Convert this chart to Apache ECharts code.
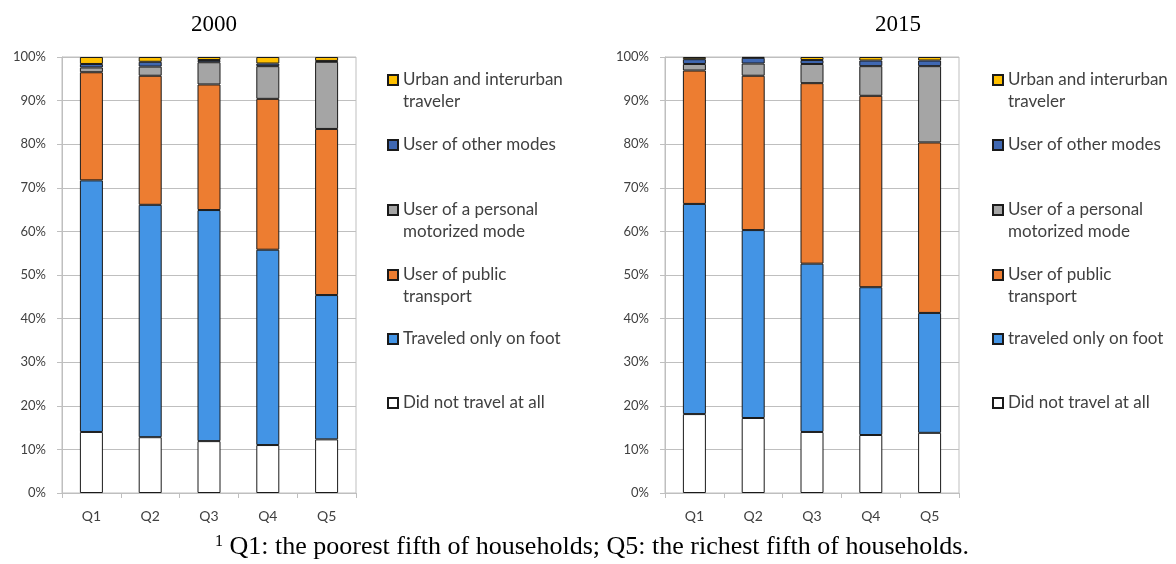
<!DOCTYPE html>
<html>
<head>
<meta charset="utf-8">
<script src="https://cdn.jsdelivr.net/npm/echarts@6/dist/echarts.min.js"></script>
<style>
  html, body { margin: 0; padding: 0; background: #fff; }
  #chart { width: 1176px; height: 564px; }
</style>
</head>
<body>
<div id="chart"></div>
<script>
// categories
const quintiles = ['Q1', 'Q2', 'Q3', 'Q4', 'Q5'];
const yTicks = [0, 10, 20, 30, 40, 50, 60, 70, 80, 90, 100];

// 2000, shares in % (bottom to top)
const noTravel2000 = [14.0, 12.8, 11.9, 11.0, 12.3];
const foot2000 = [57.7, 53.3, 53.0, 44.8, 33.1];
const publicTr2000 = [24.8, 29.6, 28.8, 34.6, 38.1];
const personal2000 = [1.1, 2.1, 5.1, 7.5, 15.4];
const other2000 = [0.8, 1.1, 0.5, 0.6, 0.2];
const urban2000 = [1.6, 1.1, 0.7, 1.5, 0.9];

// 2015
const noTravel2015 = [18.1, 17.2, 14.0, 13.3, 13.8];
const foot2015 = [48.2, 43.1, 38.6, 33.9, 27.5];
const publicTr2015 = [30.6, 35.4, 41.4, 43.9, 39.1];
const personal2015 = [1.5, 2.8, 4.4, 6.8, 17.5];
const other2015 = [1.1, 1.3, 0.9, 1.3, 1.3];
const urban2015 = [0.5, 0.2, 0.7, 0.8, 0.8];

const colors = {
	noTravel: '#ffffff',
	foot: '#4394e5',
	publicTr: '#ed7d31',
	personal: '#a5a5a5',
	other: '#4068b2',
	urban: '#ffc000'
};

// the empty first line keeps the icon level with the first text line
const wrapped = {
	'Urban and interurban traveler': '\nUrban and interurban\ntraveler',
	'User of a personal motorized mode': '\nUser of a personal\nmotorized mode',
	'User of public transport': '\nUser of public\ntransport'
};

let myChart = echarts.init(document.getElementById('chart'), null, { renderer: 'canvas' });

function makeSeries(idx, name, key, data) {
	return {
		name: name,
		type: 'bar',
		stack: 'total' + idx,
		xAxisIndex: idx,
		yAxisIndex: idx,
		barWidth: 23,
		data: data,
		itemStyle: { color: colors[key], borderColor: '#1a1a1a', borderWidth: 1 }
	};
}

function makeGrid(left) {
	return {
		left: left, top: 57, width: 294, height: 436,
		show: true, borderColor: '#bfbfbf', borderWidth: 1
	};
}

function makeXAxis(idx) {
	return {
		type: 'category', gridIndex: idx, data: quintiles,
		axisLine: { lineStyle: { color: '#bfbfbf' } },
		axisTick: { show: true, length: 5, alignWithLabel: false, lineStyle: { color: '#bfbfbf' } },
		axisLabel: { color: '#404040', fontFamily: 'Lato', fontSize: 14, margin: 16 }
	};
}

function makeYAxis(idx) {
	return {
		type: 'value', gridIndex: idx, min: 0, max: 100, interval: 10,
		axisLine: { show: true, lineStyle: { color: '#bfbfbf' } },
		axisTick: { show: true, length: 5, lineStyle: { color: '#bfbfbf' } },
		splitLine: { lineStyle: { color: '#bfbfbf' } },
		axisLabel: {
			color: '#404040', fontFamily: 'Lato', fontSize: 13, margin: 16,
			formatter: function (v) { return yTicks.indexOf(v) >= 0 ? v + '%' : ''; }
		}
	};
}

// one legend box per entry, so the uneven spacing can be kept
const legendRows = [
	{ name: 'Urban and interurban traveler', c: 80, lines: 3 },
	{ name: 'User of other modes', c: 145, lines: 1 },
	{ name: 'User of a personal motorized mode', c: 210, lines: 3 },
	{ name: 'User of public transport', c: 275, lines: 3 },
	{ name: 'FOOT', c: 339, lines: 1 },
	{ name: 'Did not travel at all', c: 403, lines: 1 }
];

let legends = [];
[{ left: 387, foot: 'Traveled only on foot' }, { left: 992, foot: 'traveled only on foot' }].forEach((side) => {
	legendRows.forEach((row) => {
		let nm = row.name === 'FOOT' ? side.foot : row.name;
		legends.push({
			left: side.left,
			top: row.c - row.lines * 11,
			orient: 'vertical',
			padding: 0,
			itemWidth: 10,
			itemHeight: 10,
			itemGap: 0,
			icon: 'rect',
			data: [nm],
			formatter: function (n) { return wrapped[n] || n; },
			textStyle: { color: '#404040', fontFamily: 'Lato', fontSize: 17, lineHeight: 22 }
		});
	});
});

option = {
	animation: false,
	backgroundColor: '#fff',
	title: [
		{ text: '2000', left: 209, top: 8, textAlign: 'center',
		  textStyle: { fontFamily: 'Liberation Serif', fontSize: 23, fontWeight: 'normal', color: '#000' } },
		{ text: '2015', left: 893, top: 8, textAlign: 'center',
		  textStyle: { fontFamily: 'Liberation Serif', fontSize: 23, fontWeight: 'normal', color: '#000' } },
		{
			text: '{sup|1}{t| Q1: the poorest fifth of households; Q5: the richest fifth of households.}',
			left: 587, top: 529, textAlign: 'center',
			textStyle: {
				fontWeight: 'normal',
				rich: {
					sup: { fontFamily: 'Liberation Serif', fontSize: 16, fontWeight: 'normal', color: '#000', verticalAlign: 'top', padding: [0, 0, 9, 0] },
					t: { fontFamily: 'Liberation Serif', fontSize: 26, fontWeight: 'normal', color: '#000' }
				}
			}
		}
	],
	legend: legends,
	grid: [makeGrid(62), makeGrid(665)],
	xAxis: [makeXAxis(0), makeXAxis(1)],
	yAxis: [makeYAxis(0), makeYAxis(1)],
	series: [
		makeSeries(0, 'Did not travel at all', 'noTravel', noTravel2000),
		makeSeries(0, 'Traveled only on foot', 'foot', foot2000),
		makeSeries(0, 'User of public transport', 'publicTr', publicTr2000),
		makeSeries(0, 'User of a personal motorized mode', 'personal', personal2000),
		makeSeries(0, 'User of other modes', 'other', other2000),
		makeSeries(0, 'Urban and interurban traveler', 'urban', urban2000),
		makeSeries(1, 'Did not travel at all', 'noTravel', noTravel2015),
		makeSeries(1, 'traveled only on foot', 'foot', foot2015),
		makeSeries(1, 'User of public transport', 'publicTr', publicTr2015),
		makeSeries(1, 'User of a personal motorized mode', 'personal', personal2015),
		makeSeries(1, 'User of other modes', 'other', other2015),
		makeSeries(1, 'Urban and interurban traveler', 'urban', urban2015)
	]
};
myChart.setOption(option);
window.onresize = myChart.resize;
</script>
</body>
</html>
